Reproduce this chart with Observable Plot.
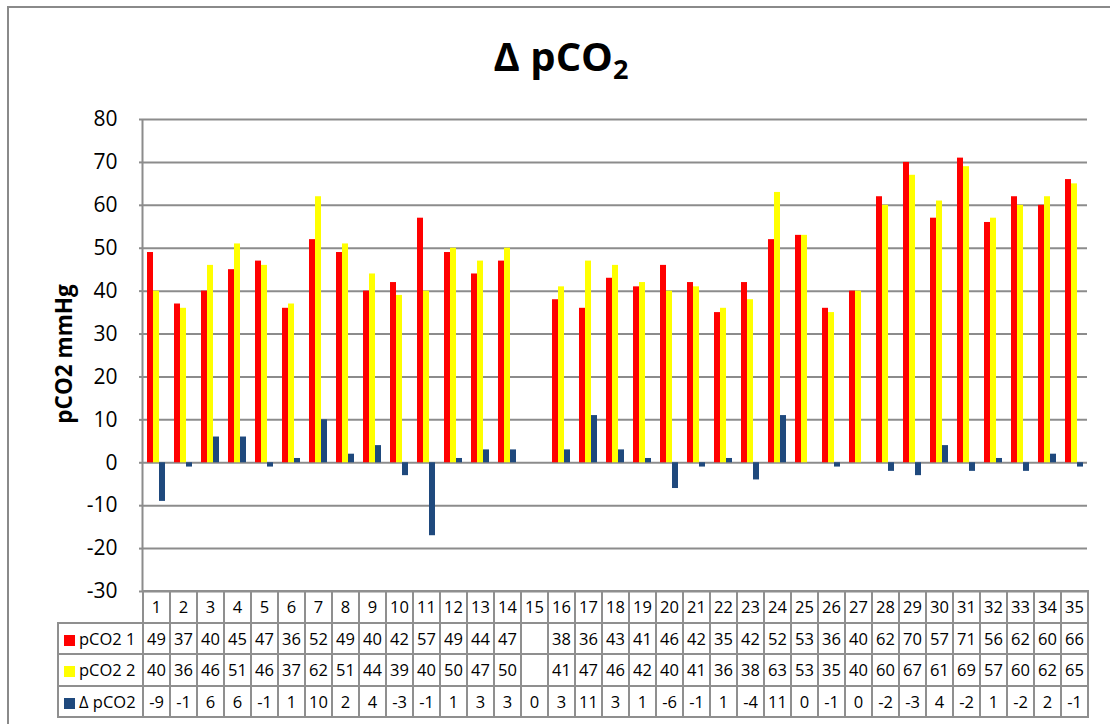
<!DOCTYPE html>
<html>
<head>
<meta charset="utf-8">
<script src="https://cdn.jsdelivr.net/npm/d3@7"></script>
<script src="https://cdn.jsdelivr.net/npm/@observablehq/plot@0.6"></script>
<style>
  body { margin: 0; background: #fff; }
  #wrap { position: relative; width: 1110px; height: 724px; overflow: hidden; background: #fff; font-family: "Open Sans", sans-serif; color: #000; }
  #frame { position: absolute; left: 7px; top: 6px; width: 1300px; height: 900px; border: 2px solid #8a8a8a; box-sizing: border-box; }
  #title { position: absolute; left: 0; width: 1122px; top: 36px; text-align: center; font-weight: bold; font-size: 40px; line-height: 40px; }
  #title sub { font-size: 27px; vertical-align: -8px; line-height: 0; }
  #ylabel { position: absolute; left: 63px; top: 354px; transform: translate(-50%, -50%) rotate(-90deg); font-weight: bold; font-size: 22.5px; white-space: nowrap; }
  .layer { position: absolute; left: 0; top: 0; }
  table { position: absolute; left: 57px; top: 590px; border-collapse: collapse; table-layout: fixed; width: 1030px; font-size: 16.5px; }
  td { border: 2px solid #8f8f8f; text-align: center; padding: 0; white-space: nowrap; overflow: hidden; }
  tr { height: 31.5px; }
  td.empty { border-top: none; border-left: none; }
  td.leg { text-align: left; padding-left: 5px; font-size: 16.5px; }
  .sw { display: inline-block; width: 11px; height: 11px; margin-right: 4px; vertical-align: -1px; }
</style>
</head>
<body>
<div id="wrap">
  <div id="frame"></div>
  <div id="title">Δ pCO<sub>2</sub></div>
  <div id="ylabel">pCO2 mmHg</div>
</div>
<script>
const categories = [1,2,3,4,5,6,7,8,9,10,11,12,13,14,15,16,17,18,19,20,21,22,23,24,25,26,27,28,29,30,31,32,33,34,35];
const pco2_1 = [49,37,40,45,47,36,52,49,40,42,57,49,44,47,null,38,36,43,41,46,42,35,42,52,53,36,40,62,70,57,71,56,62,60,66];
const pco2_2 = [40,36,46,51,46,37,62,51,44,39,40,50,47,50,null,41,47,46,42,40,41,36,38,63,53,35,40,60,67,61,69,57,60,62,65];
const delta  = [-9,-1,6,6,-1,1,10,2,4,-3,-17,1,3,3,0,3,11,3,1,-6,-1,1,-4,11,0,-1,0,-2,-3,4,-2,1,-2,2,-1];
// table row of Δ as printed (cell 11 is clipped to "-1" in the source table)
const deltaTableLabels = ["-9","-1","6","6","-1","1","10","2","4","-3","-1","1","3","3","0","3","11","3","1","-6","-1","1","-4","11","0","-1","0","-2","-3","4","-2","1","-2","2","-1"];
const seriesNames = ["pCO2 1", "pCO2 2", "Δ pCO2"];
const seriesColors = ["#ff0000", "#ffff00", "#1f497d"];
const yTicks = [-30,-20,-10,0,10,20,30,40,50,60,70,80];
const yDomain = [-30, 80];

const W = 1110, H = 600;
const M = {marginLeft: 142, marginRight: 23, marginTop: 119, marginBottom: 9};
const grid = "#8c8c8c";

const rows = [];
categories.forEach((c, i) => {
  [pco2_1, pco2_2, delta].forEach((arr, k) => {
    if (arr[i] != null) rows.push({cat: c, series: seriesNames[k], value: arr[i]});
  });
});

const wrap = document.getElementById("wrap");

const bg = Plot.plot({
  width: W, height: H, ...M,
  x: {domain: [0, 1], axis: null},
  y: {domain: yDomain, axis: null},
  style: {background: "transparent", fontFamily: "Open Sans", color: "#000", overflow: "visible"},
  marks: [
    Plot.ruleY(yTicks, {stroke: grid, strokeWidth: 2}),
    Plot.ruleX([0], {stroke: grid, strokeWidth: 2}),
    Plot.axisY(yTicks, {tickSize: 3, tickPadding: 22, fontSize: 21, label: null, stroke: grid, fill: "#000", strokeWidth: 2, tickFormat: d => String(d)})
  ]
});
bg.classList.add("layer");
wrap.appendChild(bg);

const fg = Plot.plot({
  width: W, height: H, ...M,
  fx: {domain: categories, padding: 0, axis: null, label: null},
  x: {domain: seriesNames, paddingInner: 0, paddingOuter: 0.75, axis: null},
  y: {domain: yDomain, axis: null},
  color: {domain: seriesNames, range: seriesColors},
  style: {background: "transparent", overflow: "visible"},
  marks: [
    Plot.barY(rows, {fx: "cat", x: "series", y: "value", fill: "series", inset: 0})
  ]
});
fg.classList.add("layer");
wrap.appendChild(fg);

// data table
const table = document.createElement("table");
const cg = document.createElement("colgroup");
const c0 = document.createElement("col"); c0.style.width = "85px"; cg.appendChild(c0);
categories.forEach(() => { const c = document.createElement("col"); c.style.width = "27px"; cg.appendChild(c); });
table.appendChild(cg);
const tb = document.createElement("tbody");
table.appendChild(tb);
const r0 = document.createElement("tr");
const e = document.createElement("td"); e.className = "empty"; r0.appendChild(e);
categories.forEach(c => { const td = document.createElement("td"); td.textContent = c; r0.appendChild(td); });
tb.appendChild(r0);
const tableRows = [
  pco2_1.map(v => v == null ? "" : String(v)),
  pco2_2.map(v => v == null ? "" : String(v)),
  deltaTableLabels
];
tableRows.forEach((vals, k) => {
  const tr = document.createElement("tr");
  const lg = document.createElement("td"); lg.className = "leg";
  const sw = document.createElement("span"); sw.className = "sw"; sw.style.background = seriesColors[k];
  lg.appendChild(sw); lg.appendChild(document.createTextNode(seriesNames[k]));
  tr.appendChild(lg);
  vals.forEach(v => { const td = document.createElement("td"); td.textContent = v; tr.appendChild(td); });
  tb.appendChild(tr);
});
wrap.appendChild(table);
</script>
</body>
</html>
